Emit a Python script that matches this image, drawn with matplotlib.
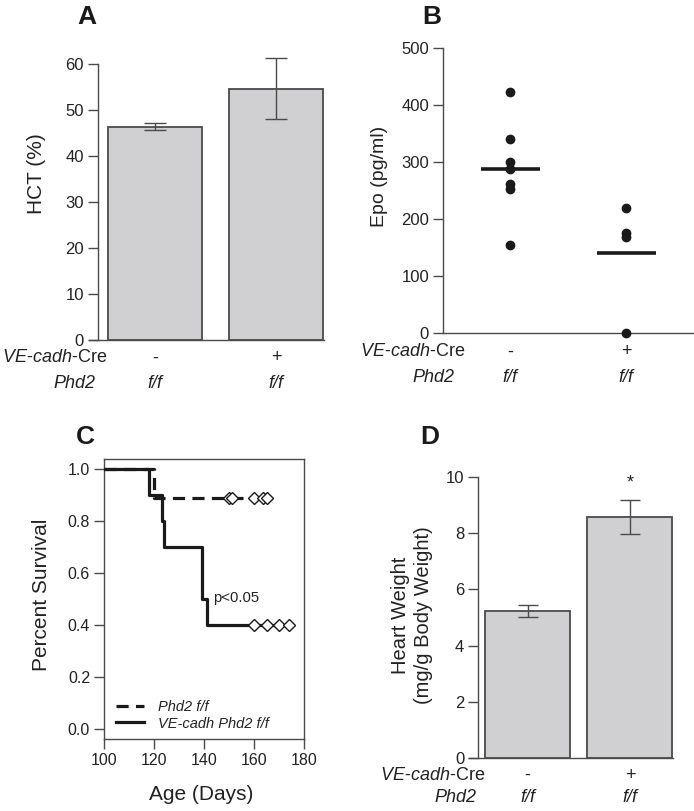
import matplotlib
matplotlib.use('Agg')
import matplotlib.pyplot as plt
import matplotlib.transforms as mtransforms
import numpy as np

plt.rcParams['font.family'] = ['Liberation Sans', 'DejaVu Sans']
plt.rcParams['mathtext.fontset'] = 'custom'
plt.rcParams['mathtext.rm'] = 'Liberation Sans'
plt.rcParams['mathtext.it'] = 'Liberation Sans:italic'

# ---------------- data ----------------
cre_labels = ['-', '+']
phd2_labels = ['f/f', 'f/f']

hct_mean = [46.4, 54.6]
hct_err = [0.85, 6.6]

epo_ctrl = [422, 340, 300, 288, 261, 253, 154]
epo_ko = [220, 175, 168, 0]

ctrl_days = [100, 120, 165]
ctrl_surv = [1.0, 0.889, 0.889]
ctrl_censor_days = [150, 151, 160, 163.5, 165]
ko_days = [100, 118, 123, 124, 139, 141, 174]
ko_surv = [1.0, 0.9, 0.8, 0.7, 0.5, 0.4, 0.4]
ko_censor_days = [160, 165, 170, 174]

hw_mean = [5.22, 8.58]
hw_err = [0.21, 0.61]

# ---------------- layout helpers ----------------
W, H = 694, 811
DPI = 100
fig = plt.figure(figsize=(W / DPI, H / DPI), dpi=DPI)

SPINE = '#4a4a4a'
TXT = '#222222'
BAR = '#d0d0d2'


def box(x0, y0, x1, y1):
    return [x0 / W, 1 - y1 / H, (x1 - x0) / W, (y1 - y0) / H]


def ftext(x, y, s, **kw):
    kw.setdefault('color', TXT)
    return fig.text(x / W, 1 - y / H, s, **kw)


def style_axes(ax):
    for sp in ax.spines.values():
        sp.set_color(SPINE)
        sp.set_linewidth(1.0)
    ax.tick_params(direction='out', length=7, width=1.0, color=SPINE,
                   labelsize=12, labelcolor=TXT, pad=3)


def group_rows(ax, y_cre, y_phd, x_cre, x_phd):
    ftext(x_cre, y_cre, r'$\mathit{VE}$-$\mathit{cadh}$-Cre', fontsize=13,
          ha='left', va='center')
    ftext(x_phd, y_phd, 'Phd2', fontsize=13, style='italic',
          ha='left', va='center')
    tr = mtransforms.blended_transform_factory(ax.transData, fig.transFigure)
    for i, (c, p) in enumerate(zip(cre_labels, phd2_labels)):
        ax.text(i, 1 - y_cre / H, c, transform=tr, fontsize=13, ha='center',
                va='center', color=TXT)
        ax.text(i, 1 - y_phd / H, p, transform=tr, fontsize=13, ha='center',
                va='center', color=TXT, style='italic')


# ---------------- Panel A ----------------
axA = fig.add_axes(box(89, 50.2, 324, 340))
style_axes(axA)
xg = np.arange(len(hct_mean))
axA.bar(xg, hct_mean, width=0.77, color=BAR, edgecolor=SPINE, linewidth=1.3,
        zorder=2, clip_on=False)
axA.errorbar(xg, hct_mean, yerr=hct_err, fmt='none', ecolor=SPINE,
             elinewidth=1.0, capsize=8, capthick=1.0, zorder=3)
axA.set_xlim(-0.541, 1.393)
axA.set_ylim(0, 63)
axA.spines['top'].set_visible(False)
axA.spines['right'].set_visible(False)
axA.spines['left'].set_position(('data', -0.467))
axA.spines['left'].set_bounds(0, 60)
axA.set_yticks(np.arange(0, 61, 10))
axA.set_xticks([])
ftext(37, 174, 'HCT (%)', fontsize=15, rotation=90, ha='center', va='center')
ftext(87, 17, 'A', fontsize=19, fontweight='bold', ha='center', va='center',
      color='#1a1a1a')
group_rows(axA, 358, 383, 2, 53)

# ---------------- Panel B ----------------
axB = fig.add_axes(box(443, 48, 694, 333))
style_axes(axB)
for i, vals in enumerate([epo_ctrl, epo_ko]):
    axB.plot([i] * len(vals), vals, 'o', ms=6, color='#1a1a1a', clip_on=False,
             zorder=3)
    m = np.mean(vals)
    axB.plot([i - 0.25, i + 0.26], [m, m], '-', lw=2.6, color='#1a1a1a',
             solid_capstyle='butt', zorder=3)
axB.set_xlim(-0.578, 1.586)
axB.set_ylim(0, 500)
axB.spines['top'].set_visible(False)
axB.spines['right'].set_visible(False)
axB.set_yticks(np.arange(0, 501, 100))
axB.set_xticks([])
ftext(379, 176, 'Epo (pg/ml)', fontsize=14, rotation=90, ha='center',
      va='center')
ftext(432, 17, 'B', fontsize=19, fontweight='bold', ha='center', va='center',
      color='#1a1a1a')
group_rows(axB, 352, 377, 360, 412)

# ---------------- Panel C ----------------
axC = fig.add_axes(box(104, 459, 304, 739))
style_axes(axC)
axC.tick_params(labelsize=11.5)
ln1, = axC.step(ctrl_days, ctrl_surv, where='post', color='#1a1a1a', lw=2.3,
                dashes=(3.8, 2.3), label='Phd2 f/f', zorder=3)
ln2, = axC.step(ko_days, ko_surv, where='post', color='#1a1a1a', lw=2.3,
                label='VE-cadh Phd2 f/f', zorder=3)
axC.plot(ctrl_censor_days, [ctrl_surv[-1]] * len(ctrl_censor_days), 'D',
         ms=5.8, mfc='white', mec='#1a1a1a', mew=1.0, zorder=4)
axC.plot(ko_censor_days, [ko_surv[-1]] * len(ko_censor_days), 'D',
         ms=5.8, mfc='white', mec='#1a1a1a', mew=1.0, zorder=4, clip_on=False)
axC.set_xlim(100, 180)
axC.set_ylim(-0.0385, 1.0385)
axC.set_xticks(np.arange(100, 181, 20))
axC.set_yticks(np.arange(0, 1.01, 0.2))
axC.set_yticklabels([f'{v:.1f}' for v in np.arange(0, 1.01, 0.2)])
axC.text(143.7, 0.503, 'p<0.05', fontsize=10.7, ha='left', va='center',
         color=TXT)
leg = axC.legend(handles=[ln1, ln2], loc='lower left',
                 bbox_to_anchor=(0.06, 0.03), frameon=False,
                 prop={'size': 10.5, 'style': 'italic'}, handlelength=1.9,
                 handletextpad=1.0, labelspacing=0.15, borderpad=0,
                 borderaxespad=0)
for t in leg.get_texts():
    t.set_color(TXT)
ftext(42, 595, 'Percent Survival', fontsize=15, rotation=90, ha='center',
      va='center')
ftext(201, 795, 'Age (Days)', fontsize=15, ha='center', va='center')
ftext(85, 437, 'C', fontsize=19, fontweight='bold', ha='center', va='center',
      color='#1a1a1a')

# ---------------- Panel D ----------------
axD = fig.add_axes(box(469, 477, 673, 758))
style_axes(axD)
xg = np.arange(len(hw_mean))
axD.bar(xg, hw_mean, width=0.83, color=BAR, edgecolor=SPINE, linewidth=1.3,
        zorder=2, clip_on=False)
axD.errorbar(xg, hw_mean, yerr=hw_err, fmt='none', ecolor=SPINE,
             elinewidth=1.0, capsize=7.5, capthick=1.0, zorder=3)
axD.text(1, hw_mean[1] + hw_err[1] + 0.3, '*', fontsize=13, ha='center',
         va='bottom', color=TXT)
axD.set_xlim(-0.571, 1.42)
axD.set_ylim(0, 10)
axD.spines['top'].set_visible(False)
axD.spines['right'].set_visible(False)
axD.spines['left'].set_position(('data', -0.483))
axD.set_yticks(np.arange(0, 11, 2))
axD.set_xticks([])
ftext(412, 615, 'Heart Weight\n(mg/g Body Weight)', fontsize=14.5,
      rotation=90, ha='center', va='center', linespacing=1.25,
      multialignment='center')
ftext(430, 437, 'D', fontsize=19, fontweight='bold', ha='center', va='center',
      color='#1a1a1a')
group_rows(axD, 775, 798, 380, 434)

fig.savefig('out.png', dpi=DPI)
